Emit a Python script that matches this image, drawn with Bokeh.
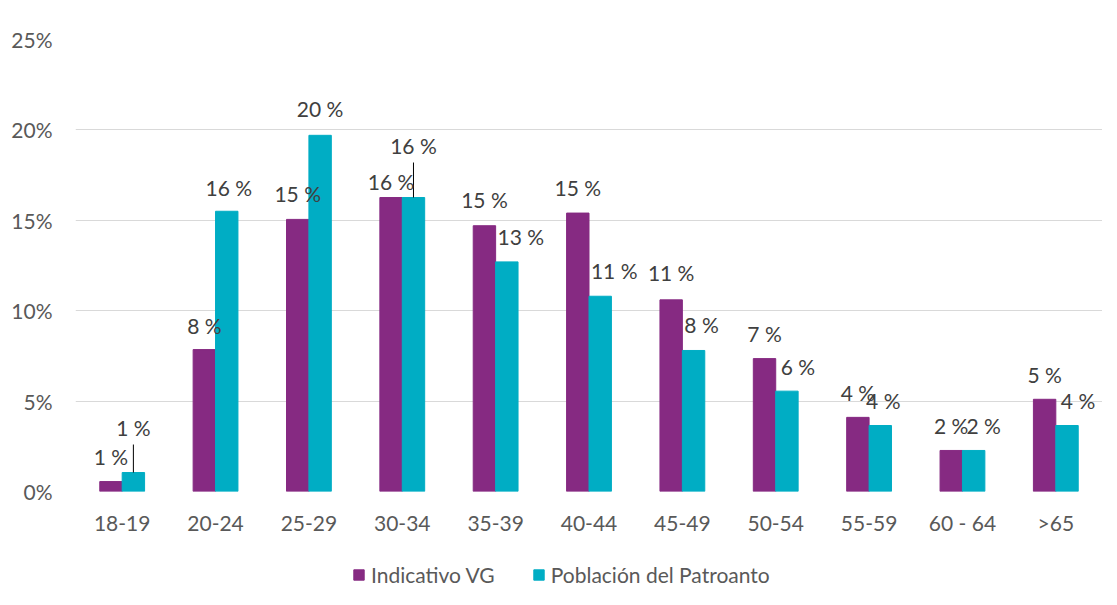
from bokeh.plotting import figure
from bokeh.layouts import column
from bokeh.models import (ColumnDataSource, FactorRange, Range1d, Legend, LegendItem,
                          PrintfTickFormatter, FixedTicker)
from bokeh.transform import dodge
from bokeh.core.properties import value
from bokeh.embed import file_html
from bokeh.resources import INLINE

# ---- data ----
categories = ["18-19", "20-24", "25-29", "30-34", "35-39", "40-44",
              "45-49", "50-54", "55-59", "60 - 64", ">65"]
indicativo_vg = [0.55, 7.85, 15.05, 16.26, 14.7, 15.4, 10.6, 7.35, 4.1, 2.27, 5.1]
poblacion_patronato = [1.05, 15.5, 19.7, 16.26, 12.7, 10.8, 7.8, 5.55, 3.65, 2.27, 3.65]
y_ticks = [0, 5, 10, 15, 20, 25]
series_names = ["Indicativo VG", "Población del Patroanto"]

# ---- styling / label placement (pixels) ----
PURPLE = "#862A82"
CYAN = "#00ADC4"
FONT = "Lato"
TEXT_GREY = "#595959"
LABEL_GREY = "#404040"
FS = "21px"
purple_lbl_dx = [0, 0, 0, 0, 0, 0, 0, 0, 0, 0, 0]
purple_lbl_dy = [25, 24, 26, 16, 26, 26, 27, 25, 25, 25, 25]
cyan_lbl_dx = [0, 2, 0, 0, 14, 14, 8, 11, 3, 10, 11]
cyan_lbl_dy = [45, 24, 27, 52, 25, 26, 26, 25, 25, 25, 25]
leader = [True, False, False, True, False, False, False, False, False, False, False]

FW, FH = 1027, 452
BL, BT = 75, 39
ymax = 25
px_per_unit = FH / ymax


def fmt(v):
    return f"{int(v + 0.5)} %"


src_p = ColumnDataSource(dict(
    cat=categories, val=indicativo_vg,
    txt=[fmt(v) for v in indicativo_vg],
    dx=purple_lbl_dx, dy=[-d for d in purple_lbl_dy]))
src_c = ColumnDataSource(dict(
    cat=categories, val=poblacion_patronato,
    txt=[fmt(v) for v in poblacion_patronato],
    dx=cyan_lbl_dx, dy=[-d for d in cyan_lbl_dy]))

lead_idx = [i for i, f in enumerate(leader) if f]
src_lead = ColumnDataSource(dict(
    cat=[categories[i] for i in lead_idx],
    y0=[poblacion_patronato[i] for i in lead_idx],
    y1=[poblacion_patronato[i] + (cyan_lbl_dy[i] - 17) / px_per_unit for i in lead_idx]))

p = figure(x_range=FactorRange(*categories), y_range=Range1d(0, ymax),
           frame_width=FW, frame_height=FH, output_backend="svg", toolbar_location=None,
           min_border_left=BL, min_border_right=0, min_border_top=BT,
           min_border_bottom=0)
p.outline_line_color = None
p.background_fill_color = "white"
p.border_fill_color = "white"

bw = 0.24
r1 = p.vbar(x=dodge("cat", -0.12, range=p.x_range), top="val", width=bw,
            source=src_p, fill_color=PURPLE, line_color=PURPLE)
r2 = p.vbar(x=dodge("cat", 0.12, range=p.x_range), top="val", width=bw,
            source=src_c, fill_color=CYAN, line_color=CYAN)

p.segment(x0=dodge("cat", 0.12, range=p.x_range), y0="y0",
          x1=dodge("cat", 0.12, range=p.x_range), y1="y1",
          source=src_lead, line_color="black", line_width=1)

for src, off in ((src_p, -0.12), (src_c, 0.12)):
    p.text(x=dodge("cat", off, range=p.x_range), y="val", text="txt",
           x_offset="dx", y_offset="dy", source=src,
           text_align="center", text_baseline="middle",
           text_font=value(FONT), text_font_size=FS, text_color=LABEL_GREY)

# axes
p.xgrid.grid_line_color = None
p.ygrid.grid_line_color = "#D9D9D9"
p.ygrid.grid_line_width = 1
p.yaxis.ticker = FixedTicker(ticks=y_ticks)
p.yaxis.formatter = PrintfTickFormatter(format="%d%%")
for ax in (p.xaxis[0], p.yaxis[0]):
    ax.axis_line_color = None
    ax.major_tick_line_color = None
    ax.minor_tick_line_color = None
    ax.major_tick_out = 0
    ax.major_tick_in = 0
    ax.major_label_text_font = FONT
    ax.major_label_text_font_size = FS
    ax.major_label_text_color = TEXT_GREY
p.yaxis.major_label_standoff = 23
p.xaxis.major_label_standoff = 18

# ---- legend in its own strip below the chart ----
leg = figure(width=BL + FW, height=50, x_range=Range1d(0, 1), y_range=Range1d(0, 1),
             output_backend="svg", toolbar_location=None, min_border=0)
leg.axis.visible = False
leg.grid.visible = False
leg.outline_line_color = None
nan = float("nan")
key_src = ColumnDataSource(dict(x=[nan], top=[nan]))
l1 = leg.vbar(x="x", top="top", width=0.1, source=key_src, fill_color=PURPLE, line_color=PURPLE)
l2 = leg.vbar(x="x", top="top", width=0.1, source=key_src, fill_color=CYAN, line_color=CYAN)
legend = Legend(items=[LegendItem(label=series_names[0], renderers=[l1]),
                       LegendItem(label=series_names[1], renderers=[l2])],
                orientation="horizontal", location=(277, 0),
                glyph_width=13, glyph_height=13, label_standoff=6, spacing=37,
                padding=0, margin=0, border_line_color=None,
                background_fill_alpha=0,
                label_text_font=FONT, label_text_font_size=FS,
                label_text_color=TEXT_GREY)
leg.add_layout(legend, "center")

layout = column(p, leg, spacing=0)
open("out.html", "w").write(file_html(layout, INLINE))
